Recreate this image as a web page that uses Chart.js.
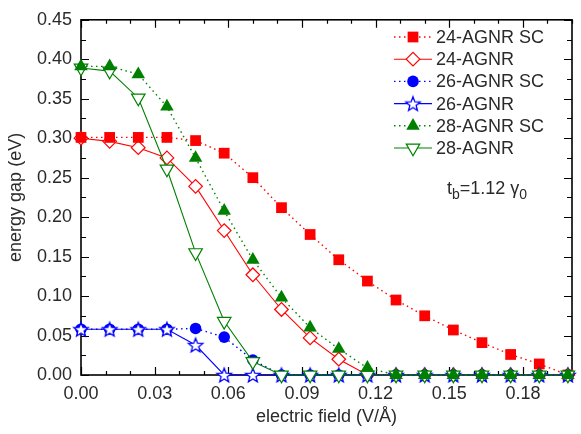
<!DOCTYPE html>
<html>
<head>
<meta charset="utf-8">
<script src="https://cdn.jsdelivr.net/npm/chart.js@4"></script>
<style>
html, body { margin: 0; padding: 0; background: #fff; }
#wrap { position: relative; width: 581px; height: 434px; }
</style>
</head>
<body>
<div id="wrap"><canvas id="gapChart" width="581" height="434"></canvas></div>
<script>
// electric field (V/A) sample points
const fieldValues = [0, 0.01167, 0.02333, 0.035, 0.04667, 0.05833, 0.07, 0.08167, 0.09333,
                     0.105, 0.11667, 0.12833, 0.14, 0.15167, 0.16333, 0.175, 0.18667, 0.19833];
// energy gap (eV)
const gap24SC = [0.301, 0.301, 0.301, 0.301, 0.297, 0.281, 0.250, 0.212, 0.178, 0.146, 0.119, 0.095, 0.075, 0.057, 0.041, 0.026, 0.014, 0];
const gap24   = [0.300, 0.296, 0.288, 0.275, 0.239, 0.183, 0.127, 0.083, 0.047, 0.020, 0, 0, 0, 0, 0, 0, 0, 0];
const gap26SC = [0.058, 0.058, 0.058, 0.058, 0.059, 0.048, 0.019, 0, 0, 0, 0, 0, 0, 0, 0, 0, 0, 0];
const gap26   = [0.058, 0.058, 0.058, 0.058, 0.038, 0, 0, 0, 0, 0, 0, 0, 0, 0, 0, 0, 0, 0];
const gap28SC = [0.391, 0.391, 0.381, 0.340, 0.275, 0.208, 0.146, 0.098, 0.060, 0.033, 0.009, 0, 0, 0, 0, 0, 0, 0];
const gap28   = [0.389, 0.385, 0.351, 0.261, 0.155, 0.068, 0.017, 0, 0, 0, 0, 0, 0, 0, 0, 0, 0, 0];
const seriesNames = ['24-AGNR SC', '24-AGNR', '26-AGNR SC', '26-AGNR', '28-AGNR SC', '28-AGNR'];
const xLabelValues = [0, 0.03, 0.06, 0.09, 0.12, 0.15, 0.18];
const yLabelValues = [0, 0.05, 0.10, 0.15, 0.20, 0.25, 0.30, 0.35, 0.40, 0.45];

const FONT = '"Liberation Sans", Arial, Helvetica, sans-serif';
const TEXT = '#2a2a2a';

function pts(ys) {
    return fieldValues.map((x, i) => ({ x: x, y: ys[i] }));
}
function isIn(list, v) {
    return list.some(l => Math.abs(l - v) < 1e-6);
}

// open star marker (Chart.js 'star' is an asterisk)
function makeStar(r, color) {
    const size = Math.ceil(r * 2 + 4);
    const c = document.createElement('canvas');
    c.width = size; c.height = size;
    const g = c.getContext('2d');
    const cx = size / 2, cy = size / 2 + r * 0.1;
    g.beginPath();
    for (let i = 0; i < 10; i++) {
        const rad = i % 2 ? r * 0.43 : r;
        const a = -Math.PI / 2 + i * Math.PI / 5;
        g.lineTo(cx + rad * Math.cos(a), cy + rad * Math.sin(a));
    }
    g.closePath();
    g.fillStyle = '#fff';
    g.fill();
    g.lineWidth = 1.3;
    g.strokeStyle = color;
    g.stroke();
    return c;
}
const starImg = makeStar(7.6, '#0000ff');

const RED = '#ff0000', BLUE = '#0000ff', GREEN = '#008000';
const DOT = [1.5, 3.5];

const datasets = [
    { label: seriesNames[0], data: pts(gap24SC), borderColor: RED, borderWidth: 1.4, borderDash: DOT,
      pointStyle: 'rect', pointRadius: 7.6, pointBackgroundColor: RED, pointBorderColor: RED, pointBorderWidth: 0, order: 4 },
    { label: seriesNames[1], data: pts(gap24), borderColor: RED, borderWidth: 1.1,
      pointStyle: 'rectRot', pointRadius: 6.8, pointBackgroundColor: '#fff', pointBorderColor: RED, pointBorderWidth: 1.2, order: 5 },
    { label: seriesNames[2], data: pts(gap26SC), borderColor: BLUE, borderWidth: 1.4, borderDash: DOT,
      pointStyle: 'circle', pointRadius: 5.8, pointBackgroundColor: BLUE, pointBorderColor: BLUE, pointBorderWidth: 0, order: 3 },
    { label: seriesNames[3], data: pts(gap26), borderColor: BLUE, borderWidth: 1.1,
      pointStyle: starImg, pointRadius: 7, pointBackgroundColor: '#fff', pointBorderColor: BLUE, pointBorderWidth: 1.2, order: 2 },
    { label: seriesNames[4], data: pts(gap28SC), borderColor: GREEN, borderWidth: 1.4, borderDash: DOT,
      pointStyle: 'triangle', pointRadius: 7.8, pointBackgroundColor: GREEN, pointBorderColor: GREEN, pointBorderWidth: 0, order: 0 },
    { label: seriesNames[5], data: pts(gap28), borderColor: GREEN, borderWidth: 1.1,
      pointStyle: 'triangle', pointRotation: 180, pointRadius: 7.8, pointBackgroundColor: '#fff', pointBorderColor: GREEN, pointBorderWidth: 1.2, order: 1 }
];
datasets.forEach(d => { d.fill = false; d.tension = 0; d.clip = false; d.pointHoverRadius = d.pointRadius; });

// frame + inward ticks on all four sides
const frameTicks = {
    id: 'frameTicks',
    beforeDatasetsDraw(chart) {
        const { ctx, chartArea: a, scales } = chart;
        ctx.save();
        ctx.strokeStyle = '#000';
        ctx.lineWidth = 1.6;
        ctx.strokeRect(a.left, a.top, a.right - a.left, a.bottom - a.top);
        ctx.lineWidth = 1.2;
        ctx.beginPath();
        scales.x.ticks.forEach(t => {
            const px = Math.round(scales.x.getPixelForValue(t.value)) + 0.5;
            const len = isIn(xLabelValues, t.value) ? 8 : 4;
            ctx.moveTo(px, a.bottom); ctx.lineTo(px, a.bottom - len);
            ctx.moveTo(px, a.top); ctx.lineTo(px, a.top + len);
        });
        scales.y.ticks.forEach(t => {
            const py = Math.round(scales.y.getPixelForValue(t.value)) + 0.5;
            const len = isIn(yLabelValues, t.value) ? 8 : 5;
            ctx.moveTo(a.left, py); ctx.lineTo(a.left + len, py);
            ctx.moveTo(a.right, py); ctx.lineTo(a.right - len, py);
        });
        ctx.stroke();
        ctx.restore();
    }
};

// legend box with line sample and marker, plus the hopping annotation
const sideText = {
    id: 'sideText',
    afterDraw(chart) {
        const ctx = chart.ctx;
        ctx.save();
        chart.data.datasets.forEach((d, i) => {
            const y = 37 + i * 22.2;
            ctx.strokeStyle = d.borderColor;
            ctx.lineWidth = d.borderWidth;
            ctx.setLineDash(d.borderDash || []);
            ctx.beginPath();
            ctx.moveTo(394, y); ctx.lineTo(432, y);
            ctx.stroke();
            ctx.setLineDash([]);
            ctx.fillStyle = d.pointBackgroundColor;
            ctx.strokeStyle = d.pointBorderColor;
            ctx.lineWidth = d.pointBorderWidth;
            Chart.helpers.drawPoint(ctx, {
                pointStyle: d.pointStyle, rotation: d.pointRotation || 0,
                radius: d.pointRadius, borderWidth: d.pointBorderWidth
            }, 413, y);
            ctx.fillStyle = TEXT;
            ctx.font = '18px ' + FONT;
            ctx.textBaseline = 'middle';
            ctx.textAlign = 'left';
            ctx.fillText(d.label, 436, y + 1);
        });

        // t_b=1.12 gamma_0
        ctx.fillStyle = TEXT;
        ctx.textBaseline = 'alphabetic';
        let x = 447;
        const base = 194;
        ctx.font = '18px ' + FONT;
        ctx.fillText('t', x, base); x += ctx.measureText('t').width;
        ctx.font = '14px ' + FONT;
        ctx.fillText('b', x, base + 5); x += ctx.measureText('b').width;
        ctx.font = '18px ' + FONT;
        ctx.fillText('=1.12 \u03b3', x, base); x += ctx.measureText('=1.12 \u03b3').width;
        ctx.font = '14px ' + FONT;
        ctx.fillText('0', x, base + 5);
        ctx.restore();
    }
};

new Chart(document.getElementById('gapChart'), {
    type: 'line',
    data: { datasets: datasets },
    options: {
        responsive: false,
        animation: false,
        devicePixelRatio: 1,
        layout: { padding: { top: 13, right: 2, left: 0, bottom: 0 } },
        plugins: { legend: { display: false }, tooltip: { enabled: false } },
        scales: {
            x: {
                type: 'linear', min: 0, max: 0.2,
                afterFit(s) { s.height = 59; },
                grid: { display: false, drawTicks: false },
                border: { display: false },
                ticks: {
                    stepSize: 0.01, autoSkip: false, maxRotation: 0, padding: 8,
                    color: TEXT, font: { family: FONT, size: 18 },
                    callback: v => isIn(xLabelValues, v) ? v.toFixed(2) : ''
                },
                title: { display: true, text: 'electric field (V/\u00c5)', color: TEXT,
                         font: { family: FONT, size: 18 }, padding: { top: 0, bottom: 6 } }
            },
            y: {
                type: 'linear', min: 0, max: 0.45,
                afterFit(s) { s.width = 81; },
                grid: { display: false, drawTicks: false },
                border: { display: false },
                ticks: {
                    stepSize: 0.025, autoSkip: false, padding: 9,
                    color: TEXT, font: { family: FONT, size: 18 },
                    callback: v => isIn(yLabelValues, v) ? v.toFixed(2) : ''
                },
                title: { display: true, text: 'energy gap (eV)', color: TEXT,
                         font: { family: FONT, size: 18 }, padding: { top: 5, bottom: 0 } }
            }
        }
    },
    plugins: [frameTicks, sideText]
});
</script>
</body>
</html>
